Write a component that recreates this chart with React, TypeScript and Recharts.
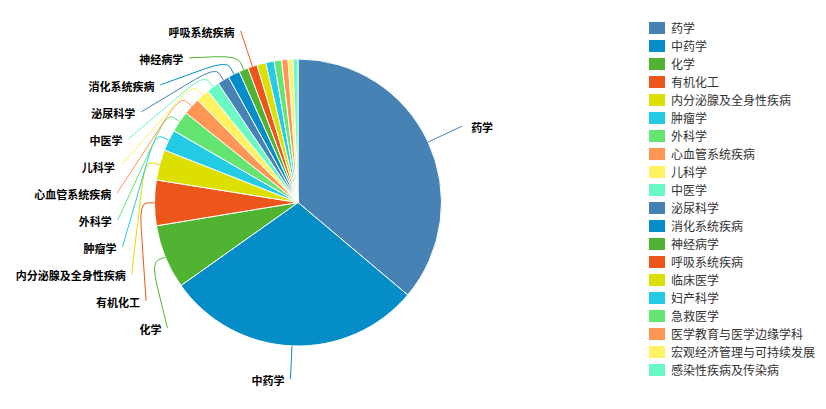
import React from "react";
import { PieChart, Pie, Cell, Legend } from "recharts";

const categories = [
  "药学",
  "中药学",
  "化学",
  "有机化工",
  "内分泌腺及全身性疾病",
  "肿瘤学",
  "外科学",
  "心血管系统疾病",
  "儿科学",
  "中医学",
  "泌尿科学",
  "消化系统疾病",
  "神经病学",
  "呼吸系统疾病",
  "临床医学",
  "妇产科学",
  "急救医学",
  "医学教育与医学边缘学科",
  "宏观经济管理与可持续发展",
  "感染性疾病及传染病",
];

const counts = [651, 523, 130, 92, 62, 43, 43, 35, 27, 26, 24, 24, 19, 19, 18, 17, 15, 13, 10, 10];

const COLORS = [
  "#4682B4",
  "#058DC7",
  "#50B432",
  "#ED561B",
  "#DDDF00",
  "#24CBE5",
  "#64E572",
  "#FF9655",
  "#FFF263",
  "#6AF9C4",
];

const data = categories.map((name, i) => ({ name, value: counts[i] }));

// chart geometry
const W = 826;
const H = 409;
const CX = 298;
const CY = 202.5;
const R = 143.5;
const LINE1 = 15;
const LABEL_R = 181;
const ROW = 27;
const BOTTOM = 379;
const MIN_LABEL_VALUE = 19;
const FONT = '"Noto Sans CJK SC", "Noto Sans", sans-serif';

type LabelPos = { x: number; y: number; left: boolean };

// label layout: natural spot on a circle, then push overlapping ones down
const labelPos: Record<number, LabelPos> = (() => {
  const total = counts.reduce((a, b) => a + b, 0);
  let acc = 0;
  const items: (LabelPos & { i: number })[] = [];
  counts.forEach((v, i) => {
    const mid = ((acc + v / 2) / total) * 2 * Math.PI;
    acc += v;
    if (v < MIN_LABEL_VALUE) return;
    const x = CX + LABEL_R * Math.sin(mid);
    let y = CY - LABEL_R * Math.cos(mid);
    if (y > BOTTOM) y = BOTTOM;
    items.push({ i, x, y, left: x < CX });
  });
  const out: Record<number, LabelPos> = {};
  [true, false].forEach((left) => {
    const side = items.filter((d) => d.left === left).sort((a, b) => a.y - b.y);
    let prev = -Infinity;
    side.forEach((d) => {
      if (d.y < prev + ROW) {
        d.y = prev + ROW;
        const dy = Math.min(Math.abs(d.y - CY), LABEL_R);
        const dx = Math.sqrt(LABEL_R * LABEL_R - dy * dy);
        d.x = left ? CX - dx : CX + dx;
      }
      prev = d.y;
      out[d.i] = { x: d.x, y: d.y, left };
    });
  });
  return out;
})();

const renderLabel = (props: any) => {
  const { cx, cy, midAngle, outerRadius, index } = props;
  const pos = labelPos[index];
  if (!pos) return null;
  const rad = Math.PI / 180;
  const c = Math.cos(-midAngle * rad);
  const s = Math.sin(-midAngle * rad);
  const p0 = [cx + outerRadius * c, cy + outerRadius * s];
  const p1 = [cx + (outerRadius + LINE1) * c, cy + (outerRadius + LINE1) * s];
  const p2 = [pos.x, pos.y];
  const a = [(p0[0] + p1[0]) / 2, (p0[1] + p1[1]) / 2];
  const d = Math.hypot(p2[0] - p1[0], p2[1] - p1[1]) || 1;
  const k = Math.min(0.45, 24 / d);
  const b = [p1[0] + (p2[0] - p1[0]) * k, p1[1] + (p2[1] - p1[1]) * k];
  const path = `M${p0[0]},${p0[1]} L${a[0]},${a[1]} Q${p1[0]},${p1[1]} ${b[0]},${b[1]} L${p2[0]},${p2[1]}`;
  const color = COLORS[index % COLORS.length];
  return (
    <g>
      <path d={path} stroke={color} strokeWidth={1} fill="none" />
      <text
        x={pos.left ? pos.x - 6 : pos.x + 9}
        y={pos.y + 1}
        textAnchor={pos.left ? "end" : "start"}
        dominantBaseline="central"
        fontSize={11}
        fontWeight="bold"
        fontFamily={FONT}
        fill="#000"
      >
        {props.name}
      </text>
    </g>
  );
};

// legend drawn in data order (recharts would sort it by name)
const renderLegend = () => (
  <div style={{ display: "flex", flexDirection: "column" }}>
    {categories.map((name, i) => (
      <div key={name} style={{ display: "flex", alignItems: "center", height: 18 }}>
        <span
          style={{
            display: "inline-block",
            width: 16,
            height: 12,
            background: COLORS[i % COLORS.length],
            marginRight: 6,
          }}
        />
        <span style={{ fontSize: 12, color: "#333", fontFamily: FONT, whiteSpace: "nowrap" }}>{name}</span>
      </div>
    ))}
  </div>
);

export default function App() {
  return (
    <div style={{ position: "absolute", left: 0, top: 0, width: W, height: H, background: "#fff", fontFamily: FONT }}>
      <PieChart width={W} height={H} margin={{ top: 0, right: 0, bottom: 0, left: 0 }}>
        <Pie
          data={data}
          dataKey="value"
          nameKey="name"
          cx={CX}
          cy={CY}
          outerRadius={R}
          startAngle={90}
          endAngle={-270}
          stroke="#fff"
          strokeWidth={1}
          label={renderLabel}
          labelLine={false}
          isAnimationActive={false}
        >
          {data.map((d, i) => (
            <Cell key={d.name} fill={COLORS[i % COLORS.length]} />
          ))}
        </Pie>
        <Legend
          layout="vertical"
          align="right"
          verticalAlign="top"
          content={renderLegend}
          wrapperStyle={{ position: "absolute", left: 649, top: 18.7, width: 177 }}
        />
      </PieChart>
    </div>
  );
}
